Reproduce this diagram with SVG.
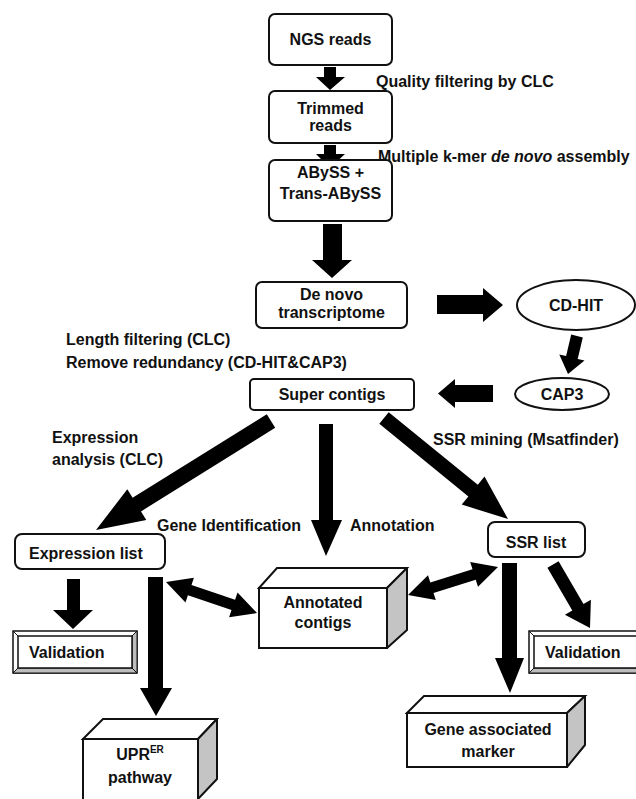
<svg xmlns="http://www.w3.org/2000/svg" width="636" height="799" viewBox="0 0 636 799">
<style>
.bx{fill:#fff;stroke:#111;stroke-width:2}
.side{fill:#c4c4c4;stroke:#111;stroke-width:2;stroke-linejoin:round}
.bev{fill:#fff;stroke:#111;stroke-width:1.5}
.bevg{fill:#bdbdbd;stroke:#111;stroke-width:1}
.ar{fill:#000}
text{font-family:"Liberation Sans",Arial,sans-serif;font-weight:bold;font-size:16px;fill:#111}
.c{text-anchor:middle}
</style>
<rect width="636" height="799" fill="#fff"/>

<g id="connectors">
<polygon class="ar" points="324,67 336,67 336,77 345,77 330,90 316,77 324,77"/>
<polygon class="ar" points="324,145 336,145 336,154 345,154 330,168 316,154 324,154"/>
<polygon class="ar" points="323,224 342,224 342,260 352,260 332,278 312,260 323,260"/>
<polygon class="ar" points="437,295 483,295 483,288 503,305 483,322 483,314 437,314"/>
<polygon class="ar" points="582.8,337.4 577.7,358.9 584.5,360.5 568,374 559.3,354.5 566.1,356.1 571.2,334.6"/>
<polygon class="ar" points="493,385 455,385 455,379 438,393.5 455,408 455,402 493,402"/>
<polygon class="ar" points="319,424 333,424 333,520 342,520 326,556 311,520 319,520"/>
<polygon class="ar" points="275.2,427.8 141,511.4 146.3,519.9 96,530 127.3,489.3 132.6,497.8 266.8,414.2"/>
<polygon class="ar" points="379.3,423.8 468.4,496.4 461.7,504.6 508,519 484.5,476.6 477.8,484.8 388.7,412.2"/>
<polygon class="ar" points="67,579 80,579 80,610 93,610 73,629 53,610 67,610"/>
<polygon class="ar" points="148,577 163,577 163,688 172,688 156,716 140,688 148,688"/>
<polygon class="ar" points="502,563 517,563 517,658 524,658 510,693 495,658 502,658"/>
<polygon class="ar" points="547.4,567.8 572.3,610.6 564.9,614.8 590,628 590.9,599.8 583.5,604 558.6,561.2"/>
<polygon class="ar" points="166,582 193.9,577.8 191.5,584.9 235.1,599.7 237.5,592.6 257,613 229.1,617.2 231.5,610.1 187.9,595.3 185.5,602.4"/>
<polygon class="ar" points="408,595 428,575.2 430.3,582.4 472.5,569.2 470.2,562 498,567 478,586.8 475.7,579.7 433.5,592.9 435.8,600"/>
</g>

<g id="n-ngs">
<rect class="bx" x="269" y="14" width="123" height="51" rx="6"/>
<text class="c" x="330.5" y="45">NGS reads</text>
</g>
<text x="376" y="87">Quality filtering by CLC</text>

<g id="n-trimmed">
<rect class="bx" x="269" y="91" width="123" height="52" rx="6"/>
<text class="c" x="330.5" y="114">Trimmed</text>
<text class="c" x="330.5" y="131">reads</text>
</g>
<text x="378" y="162">Multiple k-mer <tspan font-style="italic">de novo</tspan> assembly</text>

<g id="n-abyss">
<rect class="bx" x="269" y="160" width="123" height="61" rx="6"/>
<text class="c" x="330.5" y="178">ABySS +</text>
<text class="c" x="330.5" y="199">Trans-ABySS</text>
</g>

<g id="n-denovo">
<rect class="bx" x="256" y="282" width="151" height="46" rx="6"/>
<text class="c" x="331.5" y="300">De novo</text>
<text class="c" x="331.5" y="318">transcriptome</text>
</g>

<g id="n-cdhit">
<ellipse class="bx" cx="576" cy="305" rx="59" ry="25"/>
<text class="c" x="576" y="311">CD-HIT</text>
</g>

<g id="n-cap3">
<ellipse class="bx" cx="562" cy="394" rx="47" ry="16"/>
<text class="c" x="562" y="400">CAP3</text>
</g>

<text x="66" y="345">Length filtering (CLC)</text>
<text x="66" y="368">Remove redundancy (CD-HIT&amp;CAP3)</text>

<g id="n-super">
<rect class="bx" x="250" y="379" width="164" height="31" rx="4"/>
<text class="c" x="332" y="400">Super contigs</text>
</g>

<text x="52" y="443">Expression</text>
<text x="52" y="465">analysis (CLC)</text>
<text x="433" y="445">SSR mining (Msatfinder)</text>
<text x="157" y="531">Gene Identification</text>
<text x="350" y="531">Annotation</text>

<g id="n-exprlist">
<rect class="bx" x="15" y="534" width="150" height="35" rx="7"/>
<text x="29" y="559">Expression list</text>
</g>

<g id="n-ssrlist">
<rect class="bx" x="488" y="522" width="97" height="35" rx="7"/>
<text class="c" x="536" y="548">SSR list</text>
</g>

<g id="n-annot">
<rect class="bx" x="259" y="588" width="128" height="60"/>
<polygon class="bx" points="259,588 277,568 407,568 387,588"/>
<polygon class="side" points="387,588 407,568 407,630 387,648"/>
<text class="c" x="323" y="608">Annotated</text>
<text class="c" x="323" y="628">contigs</text>
</g>

<g id="n-valid-left">
<rect class="bev" x="13" y="631" width="124" height="42"/>
<polygon class="bevg" points="137,631 137,673 132,668 132,636"/>
<polygon class="bevg" points="13,673 137,673 132,668 18,668"/>
<rect class="bev" x="18" y="636" width="114" height="32"/>
<line x1="13" y1="631" x2="18" y2="636" stroke="#111" stroke-width="1"/>
<line x1="137" y1="631" x2="132" y2="636" stroke="#111" stroke-width="1"/>
<line x1="13" y1="673" x2="18" y2="668" stroke="#111" stroke-width="1"/>
<line x1="137" y1="673" x2="132" y2="668" stroke="#111" stroke-width="1"/>
<text x="29" y="658">Validation</text>
</g>

<g id="n-valid-right">
<rect class="bev" x="529" y="631" width="120" height="42"/>
<polygon class="bevg" points="529,673 649,673 644,668 534,668"/>
<rect class="bev" x="534" y="636" width="110" height="32"/>
<line x1="529" y1="631" x2="534" y2="636" stroke="#111" stroke-width="1"/>
<line x1="529" y1="673" x2="534" y2="668" stroke="#111" stroke-width="1"/>
<text x="545" y="658">Validation</text>
</g>

<g id="n-gene">
<rect class="bx" x="407" y="713" width="160" height="54"/>
<polygon class="bx" points="407,713 424,696 585,696 567,713"/>
<polygon class="side" points="567,713 585,696 585,745 567,767"/>
<text class="c" x="488" y="735">Gene associated</text>
<text class="c" x="488" y="757">marker</text>
</g>

<g id="n-upr">
<rect class="bx" x="83" y="739" width="115" height="66"/>
<polygon class="bx" points="83,739 103,719 217,719 198,739"/>
<polygon class="side" points="198,739 217,719 217,779 198,799"/>
<text class="c" x="140" y="760">UPR<tspan font-size="10" dy="-7">ER</tspan></text>
<text class="c" x="140" y="783">pathway</text>
</g>
</svg>
